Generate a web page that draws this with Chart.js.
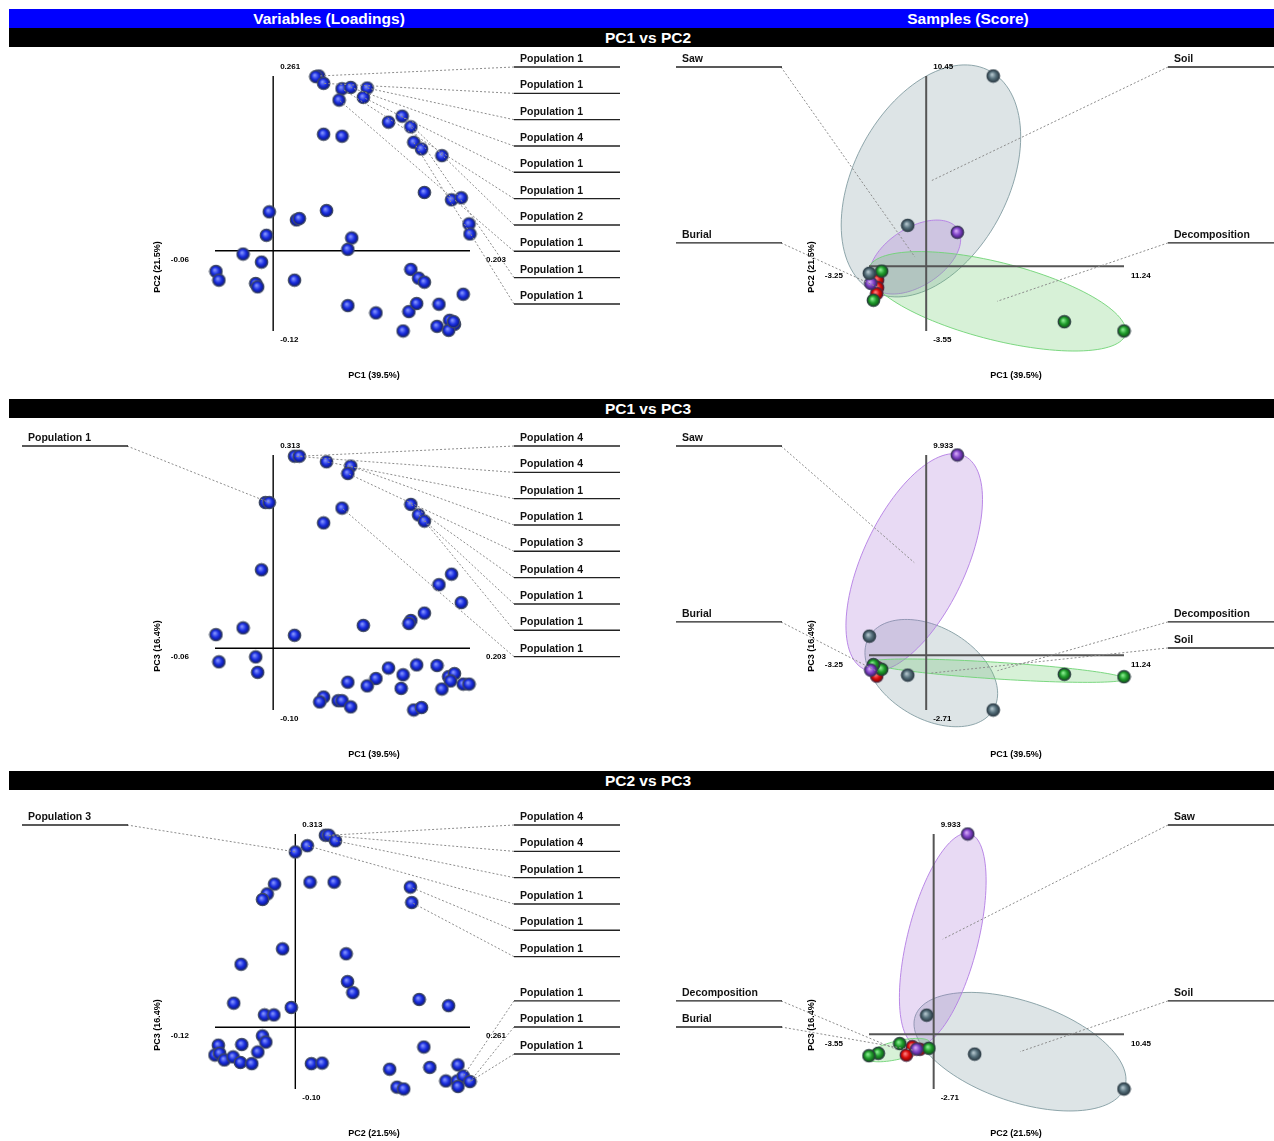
<!DOCTYPE html>
<html>
<head>
<meta charset="utf-8">
<script src="https://cdn.jsdelivr.net/npm/chart.js@4.4.1/dist/chart.umd.min.js"></script>
<style>
  html, body { margin: 0; padding: 0; background: #fff; width: 1274px; height: 1141px; overflow: hidden; position: relative;
    font-family: "Liberation Sans", Arial, sans-serif; }
  .bar { position: absolute; left: 9px; width: 1265px; height: 19px; }
  .bar.blue { background: #0000ff; top: 9px; }
  .bar.black { background: #000; }
  .bar span { position: absolute; top: 0; line-height: 19px; color: #fff; font-weight: bold; font-size: 15.5px;
    transform: translateX(-50%); white-space: nowrap; }
  canvas { position: absolute; }
</style>
</head>
<body>
<div class="bar blue"><span style="left:320px">Variables (Loadings)</span><span style="left:959px">Samples (Score)</span></div>
<div class="bar black" style="top:28px"><span style="left:639px">PC1 vs PC2</span></div>
<div class="bar black" style="top:399px"><span style="left:639px">PC1 vs PC3</span></div>
<div class="bar black" style="top:771px"><span style="left:639px">PC2 vs PC3</span></div>

<script>
// ---------- Variable loadings ----------
const rangeLoadPC1 = ['-0.06', '0.203'];
const rangeLoadPC2 = ['-0.12', '0.261'];
const rangeLoadPC3 = ['-0.10', '0.313'];

const loadingsPC1PC2 = [
  [0.047, 0.261], [0.044, 0.260], [0.052, 0.250], [0.071, 0.242], [0.080, 0.244], [0.097, 0.243],
  [0.068, 0.225], [0.093, 0.229], [0.133, 0.201], [0.119, 0.192], [0.142, 0.185], [0.052, 0.174],
  [0.071, 0.171], [0.145, 0.162], [0.153, 0.152], [0.174, 0.142], [0.156, 0.087], [0.184, 0.076],
  [0.194, 0.079], [0.202, 0.040], [0.203, 0.025], [-0.004, 0.058], [0.024, 0.046], [0.027, 0.048],
  [0.055, 0.060], [-0.007, 0.023], [0.081, 0.019], [0.077, 0.002], [-0.031, -0.005], [-0.012, -0.017],
  [-0.059, -0.031], [-0.056, -0.044], [-0.018, -0.049], [-0.016, -0.054], [0.022, -0.044], [0.142, -0.028],
  [0.150, -0.041], [0.156, -0.047], [0.196, -0.065], [0.077, -0.082], [0.106, -0.093], [0.140, -0.091],
  [0.148, -0.079], [0.171, -0.080], [0.134, -0.120], [0.169, -0.113], [0.182, -0.104], [0.187, -0.110],
  [0.181, -0.119], [0.186, -0.106]
];
const labelsPC1PC2 = ['Population 1', 'Population 1', 'Population 1', 'Population 4', 'Population 1',
  'Population 1', 'Population 2', 'Population 1', 'Population 1', 'Population 1'];
const targetsPC1PC2 = [0, 2, 5, 4, 7, 3, 8, 6, 10, 13];

const loadingsPC1PC3 = [
  [0.022, 0.311], [0.027, 0.311], [0.055, 0.302], [0.080, 0.295], [0.077, 0.283], [-0.008, 0.236],
  [-0.004, 0.236], [0.071, 0.227], [0.052, 0.203], [0.142, 0.233], [0.150, 0.216], [0.156, 0.206],
  [-0.012, 0.127], [0.184, 0.120], [0.171, 0.103], [0.194, 0.074], [0.156, 0.057], [0.142, 0.045],
  [0.140, 0.040], [0.093, 0.037], [-0.031, 0.033], [-0.059, 0.022], [0.022, 0.021], [-0.056, -0.022],
  [-0.018, -0.014], [-0.016, -0.039], [0.119, -0.032], [0.148, -0.027], [0.169, -0.028], [0.077, -0.055],
  [0.106, -0.049], [0.097, -0.061], [0.134, -0.043], [0.132, -0.065], [0.181, -0.046], [0.187, -0.041],
  [0.183, -0.053], [0.174, -0.066], [0.196, -0.058], [0.202, -0.058], [0.052, -0.079], [0.048, -0.087],
  [0.067, -0.085], [0.071, -0.085], [0.080, -0.095], [0.145, -0.100], [0.153, -0.096]
];
const labelsPC1PC3 = ['Population 1', 'Population 4', 'Population 4', 'Population 1', 'Population 1',
  'Population 3', 'Population 4', 'Population 1', 'Population 1', 'Population 1'];
const targetsPC1PC3 = [6, 1, 0, 2, 3, 4, 9, 10, 11, 7];

const loadingsPC2PC3 = [
  [0.045, 0.311], [0.050, 0.311], [0.060, 0.302], [0.018, 0.294], [0.000, 0.284], [-0.031, 0.232],
  [-0.042, 0.216], [-0.049, 0.207], [0.022, 0.235], [0.058, 0.235], [0.172, 0.227], [0.174, 0.202],
  [-0.019, 0.127], [0.076, 0.119], [-0.081, 0.102], [0.078, 0.074], [0.086, 0.056], [-0.092, 0.039],
  [-0.006, 0.032], [-0.046, 0.020], [-0.032, 0.020], [0.185, 0.045], [0.229, 0.035], [-0.049, -0.014],
  [-0.044, -0.024], [-0.080, -0.028], [-0.115, -0.029], [-0.120, -0.045], [-0.113, -0.042], [-0.106, -0.053],
  [-0.093, -0.048], [-0.082, -0.057], [-0.065, -0.059], [-0.056, -0.040], [0.024, -0.059], [0.040, -0.058],
  [0.192, -0.032], [0.141, -0.068], [0.201, -0.065], [0.243, -0.061], [0.152, -0.097], [0.162, -0.100],
  [0.225, -0.087], [0.242, -0.087], [0.251, -0.079], [0.261, -0.088], [0.243, -0.096]
];
const labelsPC2PC3 = ['Population 3', 'Population 4', 'Population 4', 'Population 1', 'Population 1',
  'Population 1', 'Population 1', 'Population 1', 'Population 1', 'Population 1'];
const targetsPC2PC3 = [4, 1, 0, 2, 3, 10, 11, 44, 45, 45];

// ---------- Sample scores ----------
const rangeScorePC1 = ['-3.25', '11.24'];
const rangeScorePC2 = ['-3.55', '10.45'];
const rangeScorePC3 = ['-2.71', '9.933'];

const groups = ['Soil', 'Saw', 'Decomposition', 'Burial'];
const sampleGroup = ['Soil', 'Soil', 'Soil', 'Saw', 'Saw', 'Decomposition', 'Decomposition',
  'Decomposition', 'Decomposition', 'Burial', 'Burial', 'Burial'];
const scorePC1 = [3.81, -1.05, -3.23, 1.77, -3.15, 7.85, 11.24, -2.53, -3.00, -2.76, -2.76, -2.81];
const scorePC2 = [10.45, 2.25, -0.38, 1.87, -0.93, -3.04, -3.55, -0.26, -1.86, -0.75, -1.17, -1.50];
const scorePC3 = [-2.71, -0.98, 0.95, 9.933, -0.73, -0.94, -1.06, -0.69, -0.46, -0.74, -0.61, -1.03];

// group ellipses: [group, centre x, centre y, half-width x, half-height y, correlation]
const ellipsesPC1PC2 = [
  ['Soil', 0.27, 4.69, 5.10, 6.37, 0.38],
  ['Saw', -0.64, 0.51, 2.60, 2.03, 0.48],
  ['Decomposition', 4.03, -1.92, 7.32, 2.73, -0.60],
  ['Burial', -2.80, -1.13, 0.28, 0.55, 0.0]
];
const ellipsesPC1PC3 = [
  ['Soil', 0.29, -0.88, 3.77, 2.66, -0.38],
  ['Saw', -0.68, 4.60, 3.88, 5.40, 0.58],
  ['Decomposition', 4.05, -0.76, 7.24, 0.58, -0.70],
  ['Burial', -2.78, -0.80, 0.25, 0.30, 0.0]
];
const ellipsesPC2PC3 = [
  ['Soil', 4.74, -0.86, 5.82, 2.94, -0.47],
  ['Saw', 0.50, 4.72, 2.38, 5.25, 0.55],
  ['Decomposition', -1.96, -0.78, 1.76, 0.58, 0.60],
  ['Burial', -1.13, -0.78, 0.55, 0.35, 0.50]
];
const groupLabelsPC1PC2 = ['Saw', 'Burial', 'Soil', 'Decomposition'];
const groupLabelsPC1PC3 = ['Saw', 'Burial', 'Decomposition', 'Soil'];
const groupLabelsPC2PC3 = ['Decomposition', 'Burial', 'Saw', 'Soil'];

// ---------- styling ----------
const FONT = '"Liberation Sans", Arial, sans-serif';
const groupStyle = {
  Soil:          { base: '#56707c', light: '#b4c6cd', dark: '#27363f', rim: '#33434d',
                   fill: 'rgba(119,147,155,0.25)', line: 'rgba(125,152,158,0.85)' },
  Saw:           { base: '#8045c8', light: '#d6a8f7', dark: '#3a1268', rim: '#3d3a5c',
                   fill: 'rgba(163,107,211,0.25)', line: 'rgba(180,125,228,0.9)' },
  Decomposition: { base: '#1f9c2c', light: '#8aee90', dark: '#0b4a11', rim: '#2c4040',
                   fill: 'rgba(95,199,95,0.25)', line: 'rgba(112,212,118,0.9)' },
  Burial:        { base: '#d80c0c', light: '#ff8080', dark: '#760000', rim: '#4f2a44',
                   fill: 'rgba(235,90,90,0.14)', line: 'rgba(235,95,95,0.8)' }
};
const loadingStyle = { base: '#1a2ee0', light: '#8494ff', dark: '#07106a', rim: '#414b63' };

function sphere(s) {
  const c = document.createElement('canvas');
  c.width = c.height = 15;
  const g = c.getContext('2d');
  const grad = g.createRadialGradient(6.2, 6.0, 0.4, 7.5, 7.5, 6.6);
  grad.addColorStop(0, s.light);
  grad.addColorStop(0.5, s.base);
  grad.addColorStop(1, s.dark);
  g.beginPath();
  g.arc(7.5, 7.5, 6.2, 0, Math.PI * 2);
  g.fillStyle = grad;
  g.fill();
  g.lineWidth = 1.3;
  g.strokeStyle = s.rim;
  g.stroke();
  return c;
}

// draws the crossing axes, end values, titles, ellipses and callout labels
const pcaDecor = {
  id: 'pcaDecor',
  beforeDatasetsDraw(chart, args, o) {
    const { ctx, chartArea: a, scales: { x, y } } = chart;
    ctx.save();
    (o.ellipses || []).forEach(e => {
      const [grp, cx, cy, sx, sy, r] = e;
      const st = groupStyle[grp];
      ctx.beginPath();
      for (let i = 0; i <= 120; i++) {
        const t = i / 120 * Math.PI * 2;
        const dx = sx * Math.cos(t);
        const dy = r * sy * Math.cos(t) + sy * Math.sqrt(1 - r * r) * Math.sin(t);
        const px = x.getPixelForValue(cx + dx), py = y.getPixelForValue(cy + dy);
        if (i === 0) ctx.moveTo(px, py); else ctx.lineTo(px, py);
      }
      ctx.closePath();
      ctx.fillStyle = st.fill;
      ctx.fill();
      ctx.lineWidth = 1;
      ctx.strokeStyle = st.line;
      ctx.stroke();
    });

    const x0 = x.getPixelForValue(0), y0 = y.getPixelForValue(0);
    ctx.strokeStyle = o.axisColor;
    ctx.lineWidth = o.axisWidth;
    ctx.beginPath();
    ctx.moveTo(a.left, y0); ctx.lineTo(a.right, y0);
    ctx.moveTo(x0, a.top); ctx.lineTo(x0, a.bottom);
    ctx.stroke();

    ctx.fillStyle = '#000';
    ctx.font = 'bold 8px ' + FONT;
    ctx.textBaseline = 'middle';
    ctx.textAlign = 'left';
    ctx.fillText(o.yTicks[1], x0 + 7, a.top - 9);
    ctx.fillText(o.yTicks[0], x0 + 7, a.bottom + 9);
    ctx.fillText(o.xTicks[1], a.right + o.rightTickDx, y0 + 9);
    ctx.textAlign = 'right';
    ctx.fillText(o.xTicks[0], a.left - 26, y0 + 9);

    ctx.font = 'bold 9px ' + FONT;
    ctx.textAlign = 'center';
    ctx.fillText(o.xTitle, a.left + o.xTitleDx, a.bottom + 45);
    ctx.save();
    ctx.translate(a.left - 57, a.top + 191);
    ctx.rotate(-Math.PI / 2);
    ctx.fillText(o.yTitle, 0, 0);
    ctx.restore();
    ctx.restore();
  },
  afterDatasetsDraw(chart, args, o) {
    const { ctx, chartArea: a, scales: { x, y } } = chart;
    ctx.save();
    o.callouts.forEach(c => {
      const ty = a.top - 17 + c.slot * 26.33;
      const uy = ty + 8;
      let x1, anchor;
      if (c.side === 'L') { x1 = a.left - 193; anchor = x1 + 105; }
      else { x1 = a.right + 44; anchor = x1; }
      ctx.setLineDash([2, 2]);
      ctx.strokeStyle = '#8c8c8c';
      ctx.lineWidth = 1;
      ctx.beginPath();
      ctx.moveTo(anchor, uy);
      ctx.lineTo(x.getPixelForValue(c.tx), y.getPixelForValue(c.ty));
      ctx.stroke();
      ctx.setLineDash([]);
      ctx.strokeStyle = '#222';
      ctx.lineWidth = 1.4;
      ctx.beginPath();
      ctx.moveTo(x1, uy); ctx.lineTo(x1 + 106, uy);
      ctx.stroke();
      ctx.fillStyle = '#111';
      ctx.font = 'bold 10.5px ' + FONT;
      ctx.textAlign = 'left';
      ctx.textBaseline = 'middle';
      ctx.fillText(c.text, x1 + 6, ty);
    });
    ctx.restore();
  }
};

const PLOT = 255, PAD_TOP = 32, PAD_BOTTOM = 62;

function makePanel(p) {
  const cv = document.createElement('canvas');
  const h = PAD_TOP + PLOT + PAD_BOTTOM;
  cv.width = p.canvasW; cv.height = h;
  cv.style.left = p.canvasX + 'px';
  cv.style.top = (p.plotTop - PAD_TOP) + 'px';
  cv.style.width = p.canvasW + 'px';
  cv.style.height = h + 'px';
  document.body.appendChild(cv);
  const padL = p.plotLeft - p.canvasX;
  const padR = p.canvasW - padL - PLOT;
  new Chart(cv, {
    type: 'scatter',
    data: { datasets: p.datasets },
    options: {
      responsive: false,
      devicePixelRatio: 1,
      animation: false,
      events: [],
      layout: { padding: { left: padL, right: padR, top: PAD_TOP, bottom: PAD_BOTTOM } },
      scales: {
        x: { type: 'linear', display: false, min: parseFloat(p.xRange[0]), max: parseFloat(p.xRange[1]) },
        y: { type: 'linear', display: false, min: parseFloat(p.yRange[0]), max: parseFloat(p.yRange[1]) }
      },
      plugins: {
        legend: { display: false },
        tooltip: { enabled: false },
        pcaDecor: {
          xTicks: p.xRange, yTicks: p.yRange, xTitle: p.xTitle, yTitle: p.yTitle,
          axisColor: p.axisColor, axisWidth: p.axisWidth, rightTickDx: p.rightTickDx,
          xTitleDx: p.xTitleDx, ellipses: p.ellipses, callouts: p.callouts
        }
      }
    },
    plugins: [pcaDecor]
  });
}

const blueBall = sphere(loadingStyle);
function loadingDataset(pairs) {
  return [{
    data: pairs.map(([vx, vy]) => ({ x: vx, y: vy })),
    pointStyle: blueBall, pointRadius: 6, clip: false, showLine: false
  }];
}
function loadingCallouts(pairs, texts, targets, sides, slots) {
  return texts.map((t, i) => ({ text: t, side: sides[i], slot: slots[i],
    tx: pairs[targets[i]][0], ty: pairs[targets[i]][1] }));
}
function scoreDatasets(xs, ys) {
  return groups.map(g => ({
    data: sampleGroup.map((s, i) => s === g ? { x: xs[i], y: ys[i] } : null).filter(Boolean),
    pointStyle: sphere(groupStyle[g]), pointRadius: 6, clip: false, showLine: false
  }));
}
function scoreCallouts(ellipses, texts, sides, slots) {
  return texts.map((t, i) => {
    const e = ellipses.find(el => el[0] === t);
    return { text: t, side: sides[i], slot: slots[i], tx: e[1], ty: e[2] };
  });
}

const ROWS = [76, 455, 834];
const left = { canvasX: 0, canvasW: 649, plotLeft: 215, axisColor: '#000', axisWidth: 1.4, rightTickDx: 16, xTitleDx: 159 };
const right = { canvasX: 649, canvasW: 625, plotLeft: 869, axisColor: '#555', axisWidth: 2, rightTickDx: 7, xTitleDx: 147 };

// PC1 vs PC2
makePanel(Object.assign({}, left, {
  plotTop: ROWS[0], xRange: rangeLoadPC1, yRange: rangeLoadPC2,
  xTitle: 'PC1 (39.5%)', yTitle: 'PC2 (21.5%)',
  datasets: loadingDataset(loadingsPC1PC2),
  callouts: loadingCallouts(loadingsPC1PC2, labelsPC1PC2, targetsPC1PC2,
    ['R', 'R', 'R', 'R', 'R', 'R', 'R', 'R', 'R', 'R'], [0, 1, 2, 3, 4, 5, 6, 7, 8, 9])
}));
makePanel(Object.assign({}, right, {
  plotTop: ROWS[0], xRange: rangeScorePC1, yRange: rangeScorePC2,
  xTitle: 'PC1 (39.5%)', yTitle: 'PC2 (21.5%)',
  datasets: scoreDatasets(scorePC1, scorePC2), ellipses: ellipsesPC1PC2,
  callouts: scoreCallouts(ellipsesPC1PC2, groupLabelsPC1PC2, ['L', 'L', 'R', 'R'], [0, 6.68, 0, 6.68])
}));

// PC1 vs PC3
makePanel(Object.assign({}, left, {
  plotTop: ROWS[1], xRange: rangeLoadPC1, yRange: rangeLoadPC3,
  xTitle: 'PC1 (39.5%)', yTitle: 'PC3 (16.4%)',
  datasets: loadingDataset(loadingsPC1PC3),
  callouts: loadingCallouts(loadingsPC1PC3, labelsPC1PC3, targetsPC1PC3,
    ['L', 'R', 'R', 'R', 'R', 'R', 'R', 'R', 'R', 'R'], [0, 0, 1, 2, 3, 4, 5, 6, 7, 8])
}));
makePanel(Object.assign({}, right, {
  plotTop: ROWS[1], xRange: rangeScorePC1, yRange: rangeScorePC3,
  xTitle: 'PC1 (39.5%)', yTitle: 'PC3 (16.4%)',
  datasets: scoreDatasets(scorePC1, scorePC3), ellipses: ellipsesPC1PC3,
  callouts: scoreCallouts(ellipsesPC1PC3, groupLabelsPC1PC3, ['L', 'L', 'R', 'R'], [0, 6.68, 6.68, 7.67])
}));

// PC2 vs PC3
makePanel(Object.assign({}, left, {
  plotTop: ROWS[2], xRange: rangeLoadPC2, yRange: rangeLoadPC3,
  xTitle: 'PC2 (21.5%)', yTitle: 'PC3 (16.4%)',
  datasets: loadingDataset(loadingsPC2PC3),
  callouts: loadingCallouts(loadingsPC2PC3, labelsPC2PC3, targetsPC2PC3,
    ['L', 'R', 'R', 'R', 'R', 'R', 'R', 'R', 'R', 'R'], [0, 0, 1, 2, 3, 4, 5, 6.68, 7.67, 8.7])
}));
makePanel(Object.assign({}, right, {
  plotTop: ROWS[2], xRange: rangeScorePC2, yRange: rangeScorePC3,
  xTitle: 'PC2 (21.5%)', yTitle: 'PC3 (16.4%)',
  datasets: scoreDatasets(scorePC2, scorePC3), ellipses: ellipsesPC2PC3,
  callouts: scoreCallouts(ellipsesPC2PC3, groupLabelsPC2PC3, ['L', 'L', 'R', 'R'], [6.68, 7.67, 0, 6.68])
}));
</script>
</body>
</html>
